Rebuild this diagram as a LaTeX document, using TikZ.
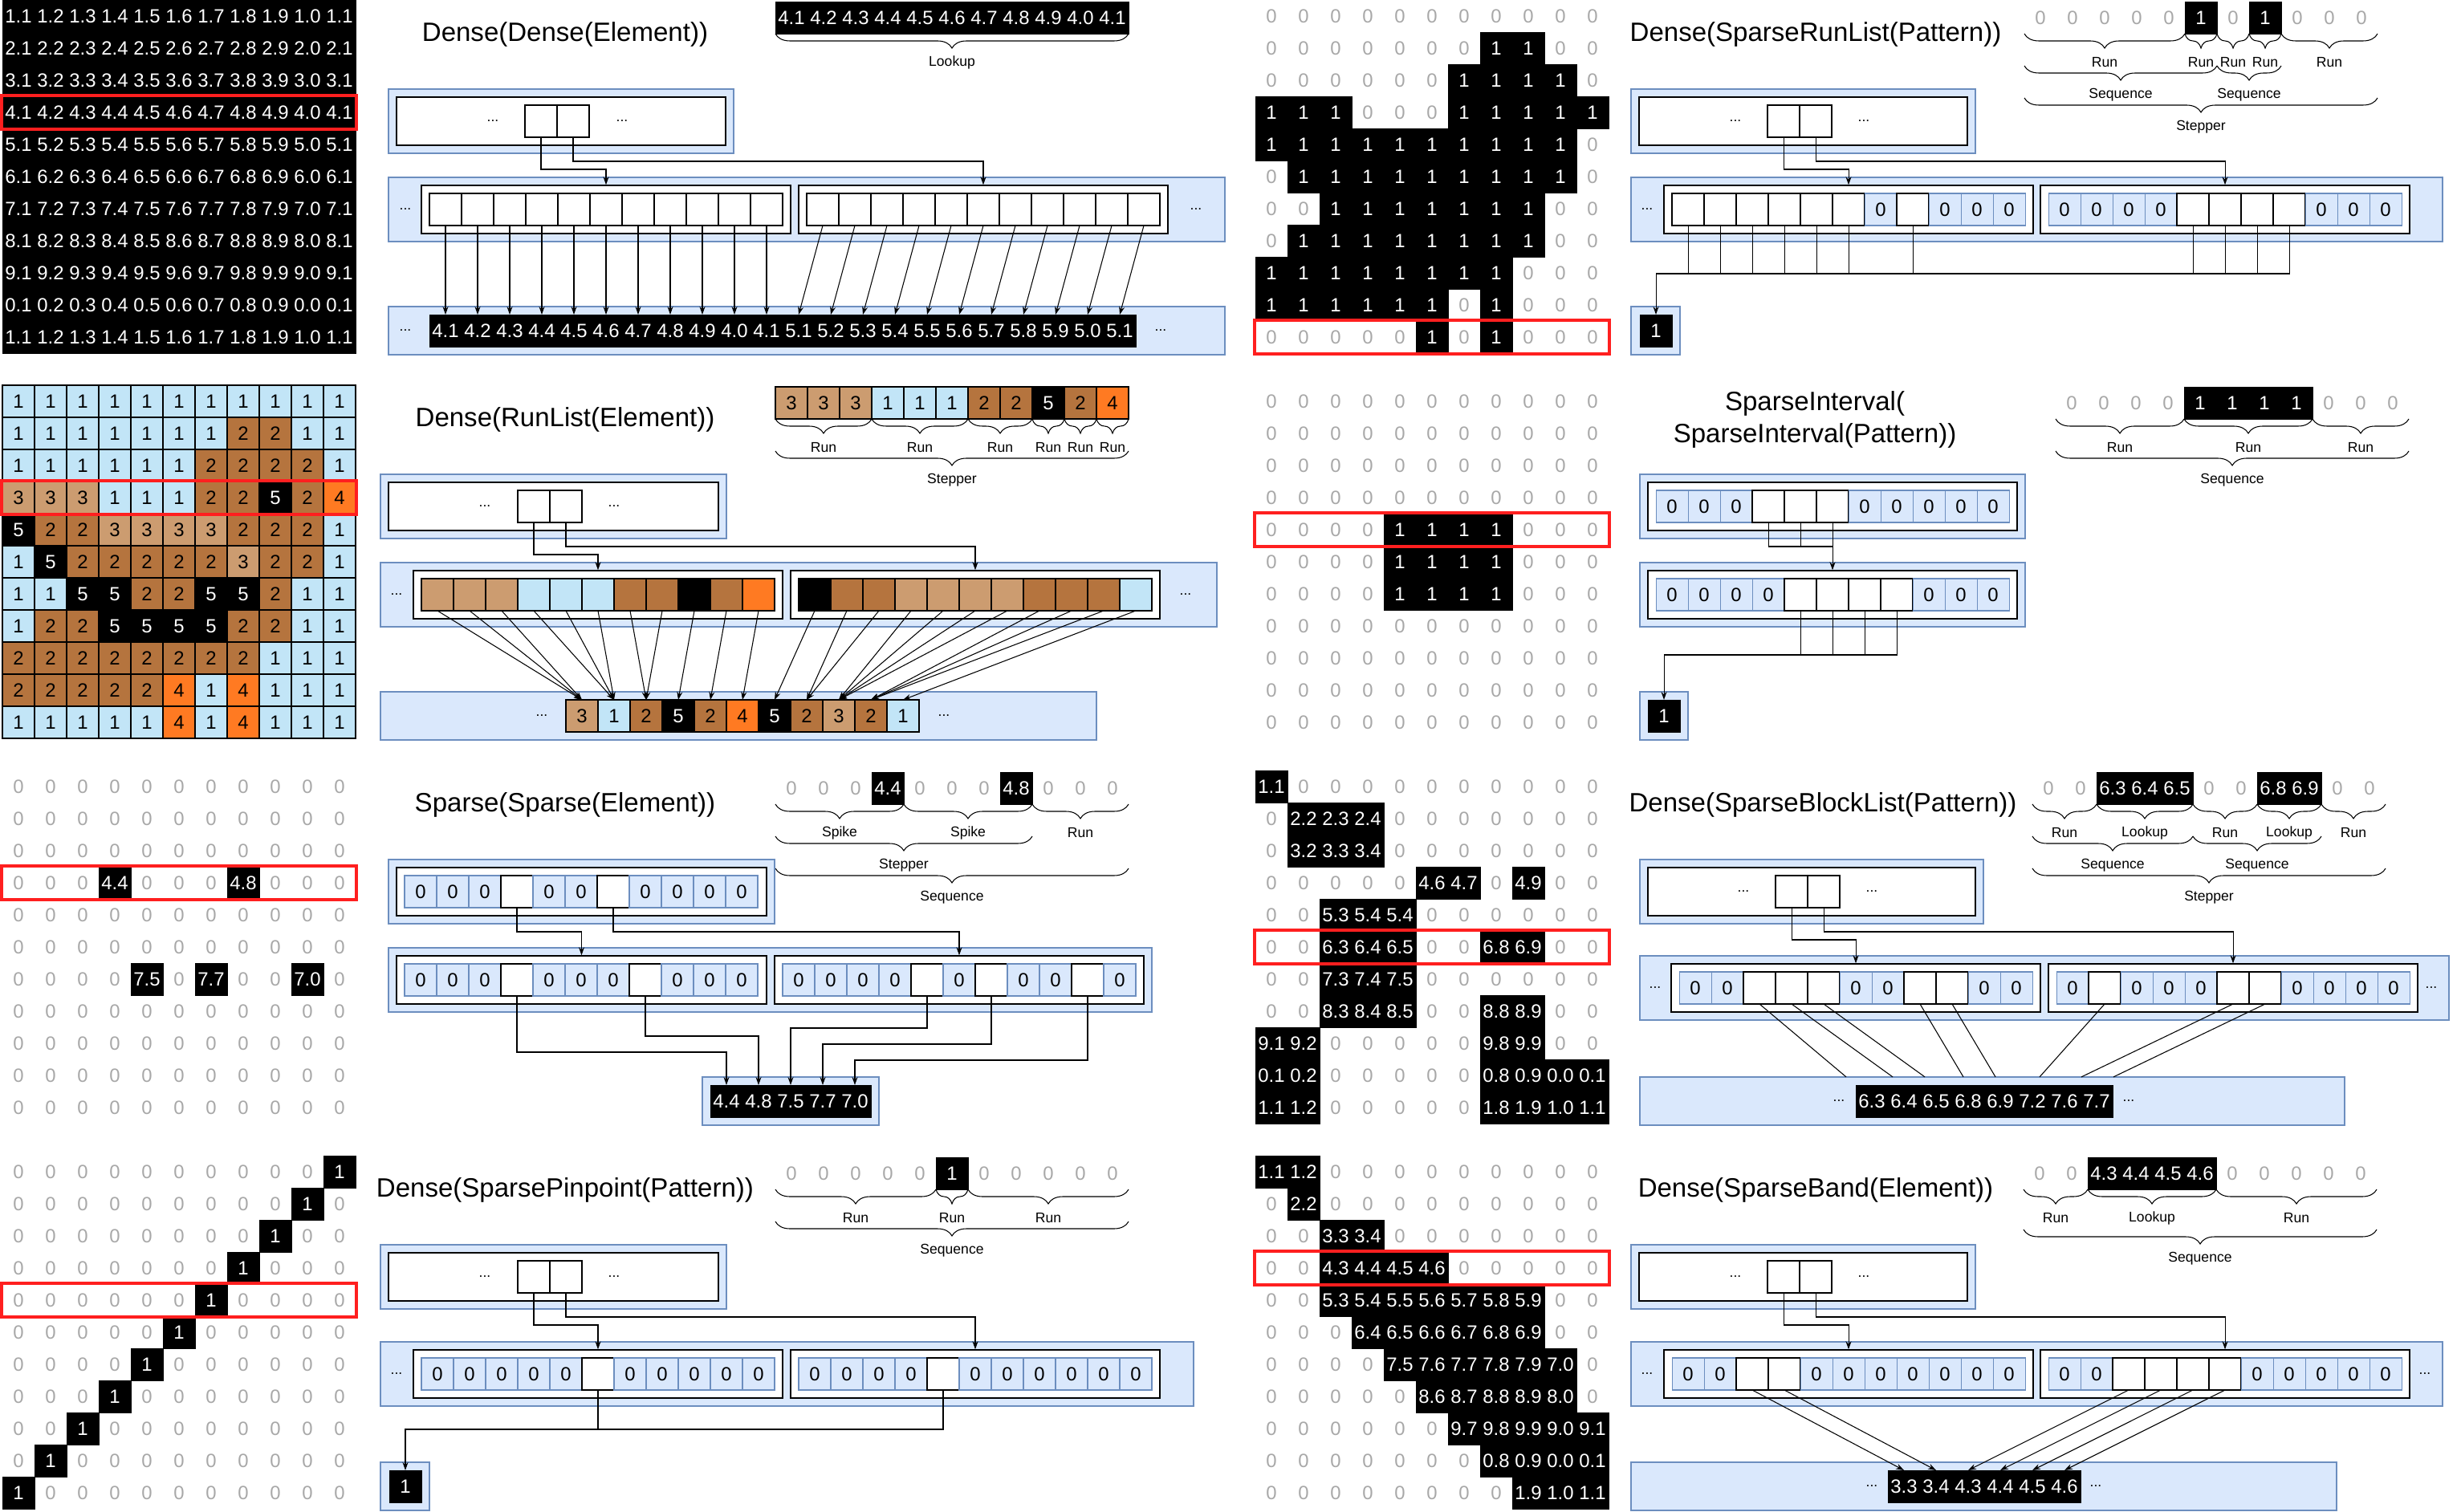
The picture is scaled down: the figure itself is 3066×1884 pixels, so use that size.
\documentclass[tikz,border=0pt]{standalone}
\usepackage{fontspec}
\setmainfont{Liberation Sans}
\usepackage{tikz}
\usetikzlibrary{arrows.meta, calc, fit, decorations.pathreplacing}
\definecolor{memblue}{HTML}{DAE8FC}
\definecolor{memline}{HTML}{6C8EBF}
\definecolor{zerogray}{HTML}{A8A8A8}
\definecolor{hlred}{HTML}{FF1F1F}
\definecolor{runblue}{HTML}{C2E5F7}
\definecolor{runbrown}{HTML}{B5743E}
\definecolor{runtan}{HTML}{CC9C70}
\definecolor{runorange}{HTML}{FF7A22}
\newcommand{\numf}{\fontsize{6.8}{8}\selectfont}
\newcommand{\labf}{\fontsize{5}{6}\selectfont}
\newcommand{\titf}{\fontsize{9.4}{11.4}\selectfont}
\def\entzero{0}
\def\entval{v}
\def\entwhite{w}
% row of values: name, x, top, row digit, entries (0 = grey zero, v = value, else literal)
\newcommand{\valrow}[5]{%
  \foreach \ent [count=\ci from 0] in #5 {%
    \pgfmathtruncatemacro{\cd}{mod(\ci+1,10)}%
    \edef\entx{\ent}%
    \ifx\entx\entzero
      \node[cellg] (#1-\ci) at (#2+40*\ci+20, #3+20) {0};
    \else\ifx\entx\entval
      \node[cellk] (#1-\ci) at (#2+40*\ci+20, #3+20) {#4.\cd};
    \else
      \node[cellk] (#1-\ci) at (#2+40*\ci+20, #3+20) {\ent};
    \fi\fi
  }}
% row of memory cells: name, x, top, entries (0 = zero, w = empty, 1-5 = run colour)
\newcommand{\memrow}[4]{%
  \foreach \ent [count=\ci from 0] in #4 {%
    \edef\entx{\ent}%
    \ifx\entx\entzero
      \node[cellz] (#1-\ci) at (#2+40*\ci+20, #3+20) {0};
    \else\ifx\entx\entwhite
      \node[cellw] (#1-\ci) at (#2+40*\ci+20, #3+20) {};
    \else
      \node[run\ent] (#1-\ci) at (#2+40*\ci+20, #3+20) {};
    \fi\fi
  }}
\newcommand{\runrow}[4]{%
  \foreach \ent [count=\ci from 0] in #4 {%
    \node[run\ent] (#1-\ci) at (#2+40*\ci+20, #3+20) {\ent};
  }}
% braces under a strip: strip name, drop, label prefix, list from/to/label
\newcommand{\brlevel}[4]{%
  \foreach \ia/\ib/\lbl [count=\k] in {#4} {%
    \draw[brc] ($(#1-\ia.south west)+(0,#2)$) -- ($(#1-\ib.south east)+(0,#2)$);
    \node[lab] (#3-\k) at ($(#1-\ia.south west)!0.5!(#1-\ib.south east)+(0,#2+36)$) {\lbl};
  }}

\begin{document}
\begin{tikzpicture}[x=0.1mm, y=-0.1mm,
  cellb/.style={minimum width=4mm, minimum height=4mm, inner sep=0pt, outer sep=0pt, font=\numf},
  cellg/.style={cellb, text=zerogray},
  cellk/.style={cellb, draw=black, line width=0.2pt, fill=black, text=white},
  cellz/.style={cellb, draw=memline, line width=0.3pt, fill=memblue},
  cellw/.style={cellb, draw=black, line width=0.4pt, fill=white},
  run1/.style={cellb, draw=black, line width=0.3pt, fill=runblue},
  run2/.style={cellb, draw=black, line width=0.3pt, fill=runbrown},
  run3/.style={cellb, draw=black, line width=0.3pt, fill=runtan},
  run4/.style={cellb, draw=black, line width=0.3pt, fill=runorange},
  run5/.style={cellb, draw=black, line width=0.3pt, fill=black, text=white},
  membox/.style={draw=memline, fill=memblue, line width=0.4pt, inner sep=0pt},
  rowbox/.style={draw=black, fill=white, line width=0.4pt, inner sep=0pt},
  arr/.style={-{Stealth[length=1mm, width=0.7mm]}, line width=0.3pt},
  wire/.style={line width=0.3pt},
  brc/.style={decorate, decoration={brace, mirror, amplitude=1.8mm}, line width=0.3pt},
  lab/.style={font=\labf, inner sep=0pt},
  ttl/.style={font=\titf, align=center, inner sep=0pt},
  hl/.style={draw=hlred, line width=0.4mm, inner sep=0.1mm}]
\useasboundingbox (0,0) rectangle (3066,1884);

% ---------- Dense(Dense(Element))
\foreach \ri in {0,...,10} {
  \pgfmathtruncatemacro{\rd}{mod(\ri+1,10)}
  \valrow{p1m\ri}{3}{40*\ri}{\rd}{{v,v,v,v,v,v,v,v,v,v,v}}
}
\node[hl, fit=(p1m3-0) (p1m3-10)] (p1hl) {};
\node[ttl] (p1t) at (704,43) {Dense(Dense(Element))};
\valrow{p1h}{966}{2}{4}{{v,v,v,v,v,v,v,v,v,v,v}}
\brlevel{p1h}{0}{p1b0}{0/10/Lookup}

\node[membox, fit={(484,111) (914,191)}] (p1top) {};
\node[rowbox, fit={(494,121) (904,181)}] (p1tw) {};
\memrow{p1p}{654}{131}{{w,w}}
\node[lab] (p1d1) at (614,151) {...};
\node[lab] (p1d2) at (775,151) {...};
\node[membox, fit={(484,221) (1526,301)}] (p1mid) {};
\node[rowbox, fit={(525,231) (985,291)}] (p1wa) {};
\node[rowbox, fit={(995,231) (1455,291)}] (p1wb) {};
\memrow{p1a}{535}{241}{{w,w,w,w,w,w,w,w,w,w,w}}
\memrow{p1b}{1005}{241}{{w,w,w,w,w,w,w,w,w,w,w}}
\node[lab] (p1d3) at (505,261) {...};
\node[lab] (p1d4) at (1490,261) {...};
\node[membox, fit={(484,382) (1526,442)}] (p1bot) {};
\valrow{p1v4}{535}{392}{4}{{v,v,v,v,v,v,v,v,v,v,v}}
\valrow{p1v5}{975}{392}{5}{{v,v,v,v,v,v,v,v,v,v,v}}
\node[lab] (p1d5) at (505,412) {...};
\node[lab] (p1d6) at (1446,412) {...};
\draw[arr] (p1p-0.south) -- ++(0,40) -| (p1wa.north);
\draw[arr] (p1p-1.south) -- ++(0,30) -| (p1wb.north);
\foreach \i in {0,...,10} {
  \draw[arr] (p1a-\i.south) -- (p1v4-\i.north);
  \draw[arr] (p1b-\i.south) -- (p1v5-\i.north);
}

% ---------- Dense(RunList(Element))
\foreach \row [count=\ri from 0] in {{1,1,1,1,1,1,1,1,1,1,1},{1,1,1,1,1,1,1,2,2,1,1},
    {1,1,1,1,1,1,2,2,2,2,1},{3,3,3,1,1,1,2,2,5,2,4},{5,2,2,3,3,3,3,2,2,2,1},
    {1,5,2,2,2,2,2,3,2,2,1},{1,1,5,5,2,2,5,5,2,1,1},{1,2,2,5,5,5,5,2,2,1,1},
    {2,2,2,2,2,2,2,2,1,1,1},{2,2,2,2,2,4,1,4,1,1,1},{1,1,1,1,1,4,1,4,1,1,1}} {
  \runrow{p2m\ri}{3}{480+40*\ri}{\row}
}
\node[hl, fit=(p2m3-0) (p2m3-10)] (p2hl) {};
\node[ttl] (p2t) at (704,523) {Dense(RunList(Element))};
\runrow{p2h}{966}{482}{{3,3,3,1,1,1,2,2,5,2,4}}
\brlevel{p2h}{0}{p2b0}{0/2/Run,3/5/Run,6/7/Run,8/8/Run,9/9/Run,10/10/Run}
\brlevel{p2h}{40}{p2b1}{0/10/Stepper}

\node[membox, fit={(474,591) (905,671)}] (p2top) {};
\node[rowbox, fit={(484,601) (895,661)}] (p2tw) {};
\memrow{p2p}{645}{611}{{w,w}}
\node[lab] (p2d1) at (604,631) {...};
\node[lab] (p2d2) at (765,631) {...};
\node[membox, fit={(474,701) (1516,781)}] (p2mid) {};
\node[rowbox, fit={(515,711) (975,771)}] (p2wa) {};
\node[rowbox, fit={(985,711) (1445,771)}] (p2wb) {};
\memrow{p2a}{525}{721}{{3,3,3,1,1,1,2,2,5,2,4}}
\memrow{p2b}{995}{721}{{5,2,2,3,3,3,3,2,2,2,1}}
\node[lab] (p2d3) at (494,741) {...};
\node[lab] (p2d4) at (1477,741) {...};
\node[membox, fit={(474,862) (1366,922)}] (p2bot) {};
\runrow{p2v}{705}{872}{{3,1,2,5,2,4,5,2,3,2,1}}
\node[lab] (p2d5) at (675,892) {...};
\node[lab] (p2d6) at (1176,892) {...};
\draw[arr] (p2p-0.south) -- ++(0,40) -| (p2wa.north);
\draw[arr] (p2p-1.south) -- ++(0,30) -| (p2wb.north);
\foreach \i/\j in {0/0,1/0,2/0,3/1,4/1,5/1,6/2,7/2,8/3,9/4,10/5}
  \draw[arr] (p2a-\i.south) -- (p2v-\j.north);
\foreach \i/\j in {0/6,1/7,2/7,3/8,4/8,5/8,6/8,7/9,8/9,9/9,10/10}
  \draw[arr] (p2b-\i.south) -- (p2v-\j.north);

% ---------- Sparse(Sparse(Element))
\foreach \row [count=\ri from 0] in {{0,0,0,0,0,0,0,0,0,0,0},{0,0,0,0,0,0,0,0,0,0,0},
    {0,0,0,0,0,0,0,0,0,0,0},{0,0,0,v,0,0,0,v,0,0,0},{0,0,0,0,0,0,0,0,0,0,0},
    {0,0,0,0,0,0,0,0,0,0,0},{0,0,0,0,v,0,v,0,0,v,0},{0,0,0,0,0,0,0,0,0,0,0},
    {0,0,0,0,0,0,0,0,0,0,0},{0,0,0,0,0,0,0,0,0,0,0},{0,0,0,0,0,0,0,0,0,0,0}} {
  \pgfmathtruncatemacro{\rd}{mod(\ri+1,10)}
  \valrow{p3m\ri}{3}{960+40*\ri}{\rd}{\row}
}
\node[hl, fit=(p3m3-0) (p3m3-10)] (p3hl) {};
\node[ttl] (p3t) at (704,1003) {Sparse(Sparse(Element))};
\valrow{p3h}{966}{962}{4}{{0,0,0,v,0,0,0,v,0,0,0}}
\brlevel{p3h}{0}{p3b0}{0/3/Spike,4/7/Spike,8/10/Run}
\brlevel{p3h}{40}{p3b1}{0/7/Stepper}
\brlevel{p3h}{80}{p3b2}{0/10/Sequence}

\node[membox, fit={(484,1071) (965,1151)}] (p3top) {};
\node[rowbox, fit={(494,1081) (955,1141)}] (p3tw) {};
\memrow{p3p}{504}{1091}{{0,0,0,w,0,0,w,0,0,0,0}}
\node[membox, fit={(484,1181) (1435,1261)}] (p3mid) {};
\node[rowbox, fit={(494,1191) (955,1251)}] (p3wa) {};
\node[rowbox, fit={(965,1191) (1425,1251)}] (p3wb) {};
\memrow{p3a}{504}{1201}{{0,0,0,w,0,0,0,w,0,0,0}}
\memrow{p3b}{975}{1201}{{0,0,0,0,w,0,w,0,0,w,0}}
\node[membox, fit={(875,1342) (1095,1402)}] (p3bot) {};
\valrow{p3v}{885}{1352}{0}{{4.4,4.8,7.5,7.7,7.0}}
\draw[arr] (p3p-3.south) -- ++(0,30) -| (p3wa.north);
\draw[arr] (p3p-6.south) -- ++(0,30) -| (p3wb.north);
\draw[arr] (p3a-3.south) -- ++(0,70) -| (p3v-0.north);
\draw[arr] (p3a-7.south) -- ++(0,50) -| (p3v-1.north);
\draw[arr] (p3b-4.south) -- ++(0,40) -| (p3v-2.north);
\draw[arr] (p3b-6.south) -- ++(0,60) -| (p3v-3.north);
\draw[arr] (p3b-9.south) -- ++(0,80) -| (p3v-4.north);

% ---------- Dense(SparsePinpoint(Pattern))
\foreach \row [count=\ri from 0] in {{0,0,0,0,0,0,0,0,0,0,1},{0,0,0,0,0,0,0,0,0,1,0},
    {0,0,0,0,0,0,0,0,1,0,0},{0,0,0,0,0,0,0,1,0,0,0},{0,0,0,0,0,0,1,0,0,0,0},
    {0,0,0,0,0,1,0,0,0,0,0},{0,0,0,0,1,0,0,0,0,0,0},{0,0,0,1,0,0,0,0,0,0,0},
    {0,0,1,0,0,0,0,0,0,0,0},{0,1,0,0,0,0,0,0,0,0,0},{1,0,0,0,0,0,0,0,0,0,0}} {
  \valrow{p4m\ri}{3}{1440+40*\ri}{0}{\row}
}
\node[hl, fit=(p4m4-0) (p4m4-10)] (p4hl) {};
\node[ttl] (p4t) at (704,1483) {Dense(SparsePinpoint(Pattern))};
\valrow{p4h}{966}{1442}{5}{{0,0,0,0,0,1,0,0,0,0,0}}
\brlevel{p4h}{0}{p4b0}{0/4/Run,5/5/Run,6/10/Run}
\brlevel{p4h}{40}{p4b1}{0/10/Sequence}

\node[membox, fit={(474,1551) (905,1631)}] (p4top) {};
\node[rowbox, fit={(484,1561) (895,1621)}] (p4tw) {};
\memrow{p4p}{645}{1571}{{w,w}}
\node[lab] (p4d1) at (604,1591) {...};
\node[lab] (p4d2) at (765,1591) {...};
\node[membox, fit={(474,1672) (1487,1752)}] (p4mid) {};
\node[rowbox, fit={(515,1682) (975,1742)}] (p4wa) {};
\node[rowbox, fit={(985,1682) (1445,1742)}] (p4wb) {};
\memrow{p4a}{525}{1692}{{0,0,0,0,0,w,0,0,0,0,0}}
\memrow{p4b}{995}{1692}{{0,0,0,0,w,0,0,0,0,0,0}}
\node[lab] (p4d3) at (494,1712) {...};
\node[membox, fit={(474,1822) (535,1882)}] (p4bot) {};
\valrow{p4v}{485}{1832}{0}{{1}}
\draw[arr] (p4p-0.south) -- ++(0,40) -| (p4wa.north);
\draw[arr] (p4p-1.south) -- ++(0,30) -| (p4wb.north);
\draw[wire] (p4a-5.south) -- ++(0,49);
\draw[arr] (p4b-4.south) -- ++(0,49) -| (p4v-0.north);

% ---------- Dense(SparseRunList(Pattern))
\foreach \row [count=\ri from 0] in {{0,0,0,0,0,0,0,0,0,0,0},{0,0,0,0,0,0,0,1,1,0,0},
    {0,0,0,0,0,0,1,1,1,1,0},{1,1,1,0,0,0,1,1,1,1,1},{1,1,1,1,1,1,1,1,1,1,0},
    {0,1,1,1,1,1,1,1,1,1,0},{0,0,1,1,1,1,1,1,1,0,0},{0,1,1,1,1,1,1,1,1,0,0},
    {1,1,1,1,1,1,1,1,0,0,0},{1,1,1,1,1,1,0,1,0,0,0},{0,0,0,0,0,1,0,1,0,0,0}} {
  \valrow{p5m\ri}{1564}{40*\ri}{0}{\row}
}
\node[hl, fit=(p5m10-0) (p5m10-10)] (p5hl) {};
\node[ttl] (p5t) at (2262,43) {Dense(SparseRunList(Pattern))};
\valrow{p5h}{2522}{2}{1}{{0,0,0,0,0,1,0,1,0,0,0}}
\brlevel{p5h}{0}{p5b0}{0/4/Run,5/5/Run,6/6/Run,7/7/Run,8/10/Run}
\brlevel{p5h}{40}{p5b1}{0/5/Sequence,6/7/Sequence}
\brlevel{p5h}{80}{p5b2}{0/10/Stepper}

\node[membox, fit={(2032,111) (2461,191)}] (p5top) {};
\node[rowbox, fit={(2042,121) (2451,181)}] (p5tw) {};
\memrow{p5p}{2202}{131}{{w,w}}
\node[lab] (p5d1) at (2162,151) {...};
\node[lab] (p5d2) at (2322,151) {...};
\node[membox, fit={(2032,221) (3043,301)}] (p5mid) {};
\node[rowbox, fit={(2073,231) (2533,291)}] (p5wa) {};
\node[rowbox, fit={(2542,231) (3002,291)}] (p5wb) {};
\memrow{p5a}{2083}{241}{{w,w,w,w,w,w,0,w,0,0,0}}
\memrow{p5b}{2552}{241}{{0,0,0,0,w,w,w,w,0,0,0}}
\node[lab] (p5d3) at (2052,261) {...};
\node[membox, fit={(2032,382) (2093,442)}] (p5bot) {};
\valrow{p5v}{2043}{392}{0}{{1}}
\draw[arr] (p5p-0.south) -- ++(0,40) -| (p5wa.north);
\draw[arr] (p5p-1.south) -- ++(0,30) -| (p5wb.north);
\foreach \s in {a-0,a-1,a-2,a-3,a-4,a-5,a-7,b-4,b-5,b-6}
  \draw[wire] (p5\s.south) -- ++(0,60);
\draw[arr] (p5b-7.south) -- ++(0,60) -| (p5v-0.north);

% ---------- SparseInterval(SparseInterval(Pattern))
\foreach \row [count=\ri from 0] in {{0,0,0,0,0,0,0,0,0,0,0},{0,0,0,0,0,0,0,0,0,0,0},
    {0,0,0,0,0,0,0,0,0,0,0},{0,0,0,0,0,0,0,0,0,0,0},{0,0,0,0,1,1,1,1,0,0,0},
    {0,0,0,0,1,1,1,1,0,0,0},{0,0,0,0,1,1,1,1,0,0,0},{0,0,0,0,0,0,0,0,0,0,0},
    {0,0,0,0,0,0,0,0,0,0,0},{0,0,0,0,0,0,0,0,0,0,0},{0,0,0,0,0,0,0,0,0,0,0}} {
  \valrow{p6m\ri}{1564}{480+40*\ri}{0}{\row}
}
\node[hl, fit=(p6m4-0) (p6m4-10)] (p6hl) {};
\node[ttl] (p6t) at (2261,523) {SparseInterval(\\SparseInterval(Pattern))};
\valrow{p6h}{2561}{482}{5}{{0,0,0,0,1,1,1,1,0,0,0}}
\brlevel{p6h}{0}{p6b0}{0/3/Run,4/7/Run,8/10/Run}
\brlevel{p6h}{40}{p6b1}{0/10/Sequence}

\node[membox, fit={(2043,591) (2523,671)}] (p6top) {};
\node[rowbox, fit={(2053,601) (2513,661)}] (p6tw) {};
\memrow{p6p}{2063}{611}{{0,0,0,w,w,w,0,0,0,0,0}}
\node[membox, fit={(2043,701) (2523,781)}] (p6mid) {};
\node[rowbox, fit={(2053,711) (2513,771)}] (p6w) {};
\memrow{p6a}{2063}{721}{{0,0,0,0,w,w,w,w,0,0,0}}
\node[membox, fit={(2043,862) (2103,922)}] (p6bot) {};
\valrow{p6v}{2053}{872}{0}{{1}}
\draw[wire] (p6p-4.south) -- ++(0,30);
\draw[wire] (p6p-5.south) -- ++(0,30);
\draw[arr] (p6p-3.south) -- ++(0,30) -| (p6w.north);
\foreach \s in {4,5,6}
  \draw[wire] (p6a-\s.south) -- ++(0,55);
\draw[arr] (p6a-7.south) -- ++(0,55) -| (p6v-0.north);

% ---------- Dense(SparseBlockList(Pattern))
\foreach \row [count=\ri from 0] in {{v,0,0,0,0,0,0,0,0,0,0},{0,v,v,v,0,0,0,0,0,0,0},
    {0,v,v,v,0,0,0,0,0,0,0},{0,0,0,0,0,v,v,0,v,0,0},{0,0,v,v,5.4,0,0,0,0,0,0},
    {0,0,v,v,v,0,0,v,v,0,0},{0,0,v,v,v,0,0,0,0,0,0},{0,0,v,v,v,0,0,v,v,0,0},
    {v,v,0,0,0,0,0,v,v,0,0},{v,v,0,0,0,0,0,v,v,v,v},{v,v,0,0,0,0,0,v,v,v,v}} {
  \pgfmathtruncatemacro{\rd}{mod(\ri+1,10)}
  \valrow{p7m\ri}{1564}{960+40*\ri}{\rd}{\row}
}
\node[hl, fit=(p7m5-0) (p7m5-10)] (p7hl) {};
\node[ttl] (p7t) at (2271,1003) {Dense(SparseBlockList(Pattern))};
\valrow{p7h}{2532}{962}{6}{{0,0,v,v,v,0,0,v,v,0,0}}
\brlevel{p7h}{0}{p7b0}{0/1/Run,2/4/Lookup,5/6/Run,7/8/Lookup,9/10/Run}
\brlevel{p7h}{40}{p7b1}{0/4/Sequence,5/8/Sequence}
\brlevel{p7h}{80}{p7b2}{0/10/Stepper}

\node[membox, fit={(2043,1071) (2471,1151)}] (p7top) {};
\node[rowbox, fit={(2053,1081) (2461,1141)}] (p7tw) {};
\memrow{p7p}{2212}{1091}{{w,w}}
\node[lab] (p7d1) at (2172,1111) {...};
\node[lab] (p7d2) at (2332,1111) {...};
\node[membox, fit={(2043,1191) (3051,1271)}] (p7mid) {};
\node[rowbox, fit={(2082,1201) (2542,1261)}] (p7wa) {};
\node[rowbox, fit={(2552,1201) (3012,1261)}] (p7wb) {};
\memrow{p7a}{2092}{1211}{{0,0,w,w,w,0,0,w,w,0,0}}
\memrow{p7b}{2562}{1211}{{0,w,0,0,0,w,w,0,0,0,0}}
\node[lab] (p7d3) at (2062,1231) {...};
\node[lab] (p7d4) at (3029,1231) {...};
\node[membox, fit={(2043,1342) (2921,1402)}] (p7bot) {};
\valrow{p7v}{2312}{1352}{0}{{6.3,6.4,6.5,6.8,6.9,7.2,7.6,7.7}}
\node[lab] (p7d5) at (2291,1372) {...};
\node[lab] (p7d6) at (2652,1372) {...};
\draw[arr] (p7p-0.south) -- ++(0,40) -| (p7wa.north);
\draw[arr] (p7p-1.south) -- ++(0,30) -| (p7wb.north);
\foreach \src/\tgt in {a-2/0.north west,a-3/1.north,a-4/2.north,a-7/3.north,
    a-8/4.north,b-1/5.north,b-5/6.north,b-6/7.north}
  \draw[wire] (p7\src.south) -- ($(p7\src.south)!0.9!(p7v-\tgt)$);

% ---------- Dense(SparseBand(Element))
\foreach \row [count=\ri from 0] in {{v,v,0,0,0,0,0,0,0,0,0},{0,v,0,0,0,0,0,0,0,0,0},
    {0,0,v,v,0,0,0,0,0,0,0},{0,0,v,v,v,v,0,0,0,0,0},{0,0,v,v,v,v,v,v,v,0,0},
    {0,0,0,v,v,v,v,v,v,0,0},{0,0,0,0,v,v,v,v,v,v,0},{0,0,0,0,0,v,v,v,v,v,0},
    {0,0,0,0,0,0,v,v,v,v,v},{0,0,0,0,0,0,0,v,v,v,v},{0,0,0,0,0,0,0,0,v,v,v}} {
  \pgfmathtruncatemacro{\rd}{mod(\ri+1,10)}
  \valrow{p8m\ri}{1564}{1440+40*\ri}{\rd}{\row}
}
\node[hl, fit=(p8m3-0) (p8m3-10)] (p8hl) {};
\node[ttl] (p8t) at (2262,1483) {Dense(SparseBand(Element))};
\valrow{p8h}{2521}{1442}{4}{{0,0,v,v,v,v,0,0,0,0,0}}
\brlevel{p8h}{0}{p8b0}{0/1/Run,2/5/Lookup,6/10/Run}
\brlevel{p8h}{50}{p8b1}{0/10/Sequence}

\node[membox, fit={(2032,1551) (2461,1631)}] (p8top) {};
\node[rowbox, fit={(2042,1561) (2451,1621)}] (p8tw) {};
\memrow{p8p}{2202}{1571}{{w,w}}
\node[lab] (p8d1) at (2162,1591) {...};
\node[lab] (p8d2) at (2322,1591) {...};
\node[membox, fit={(2032,1672) (3043,1752)}] (p8mid) {};
\node[rowbox, fit={(2073,1682) (2533,1742)}] (p8wa) {};
\node[rowbox, fit={(2542,1682) (3002,1742)}] (p8wb) {};
\memrow{p8a}{2083}{1692}{{0,0,w,w,0,0,0,0,0,0,0}}
\memrow{p8b}{2552}{1692}{{0,0,w,w,w,w,0,0,0,0,0}}
\node[lab] (p8d3) at (2052,1712) {...};
\node[lab] (p8d4) at (3021,1712) {...};
\node[membox, fit={(2032,1822) (2911,1882)}] (p8bot) {};
\valrow{p8v}{2352}{1832}{0}{{3.3,3.4,4.3,4.4,4.5,4.6}}
\node[lab] (p8d5) at (2332,1852) {...};
\node[lab] (p8d6) at (2611,1852) {...};
\draw[arr] (p8p-0.south) -- ++(0,40) -| (p8wa.north);
\draw[arr] (p8p-1.south) -- ++(0,30) -| (p8wb.north);
\foreach \src/\tgt in {a-2/0,a-3/1,b-2/2,b-3/3,b-4/4,b-5/5}
  \draw[arr] (p8\src.south) -- (p8v-\tgt.north);
\end{tikzpicture}
\end{document}
